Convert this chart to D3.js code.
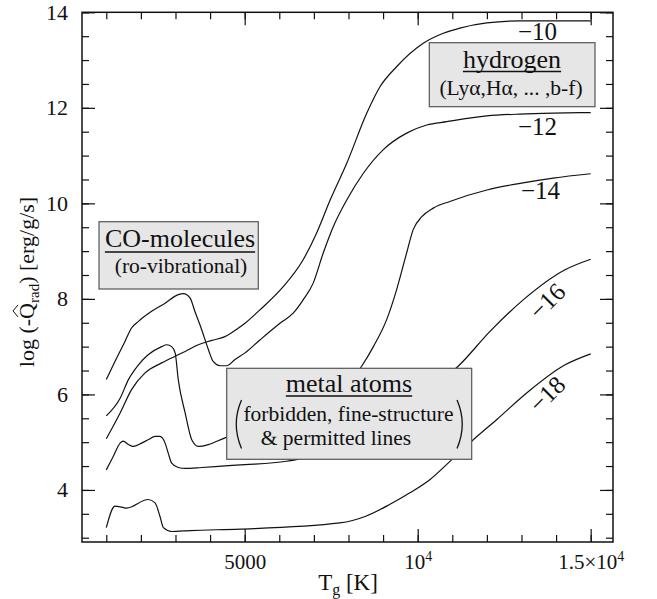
<!DOCTYPE html>
<html><head><meta charset="utf-8">
<script src="https://cdn.jsdelivr.net/npm/d3@7"></script>
</head><body style="margin:0;background:#fff">
<svg id="c" width="657" height="599"></svg>
<script>
// ---- data (T in K, log(-Q_rad) in erg/g/s) ----
const curveNames = ["−10","−12","−14","−16","−18"];
const T_m10 = [1000,1400,1730,2120,2600,2990,3280,3660,4050,4430,4820,5010,5440,6120,6690,7080,7470,7950,8530,8910,9390,10160,10740,11220,12000,12960,13920,15000];
const Q_m10 = [5.07,5.61,6.10,6.45,6.66,6.80,6.90,7.04,7.13,7.21,7.39,7.49,7.77,8.26,8.82,9.38,10.07,10.84,11.89,12.44,12.86,13.35,13.56,13.67,13.78,13.82,13.82,13.82];
const T_m12 = [1000,1250,1540,1730,1930,2310,2700,3080,3230,3420,3560,3760,3950,4090,4290,4480,4720,5010,5440,6020,6400,6690,6980,7270,7560,7950,8430,9000,9680,10260,10840,12000,12960,13920,15000];
const Q_m12 = [6.31,6.69,7.11,7.39,7.53,7.74,7.91,8.09,8.11,8.02,7.74,7.35,6.94,6.69,6.60,6.60,6.73,6.87,7.14,7.49,7.70,7.98,8.33,8.96,9.51,10.07,10.63,11.12,11.47,11.64,11.71,11.83,11.87,11.89,11.90];
const T_m14 = [1000,1400,1640,1930,2210,2600,2750,2890,2990,3080,3280,3470,3660,3950,4430,5200,6000,7000,7800,8380,8720,9100,9390,9680,9870,10120,10450,10930,12000,12960,13920,15000];
const Q_m14 = [5.55,5.92,6.31,6.62,6.83,7.00,7.04,7.00,6.87,6.31,5.61,5.05,4.91,4.95,5.09,5.25,5.45,5.75,6.10,6.59,7.00,7.56,8.19,8.96,9.45,9.72,9.90,10.04,10.28,10.42,10.53,10.62];
const T_m16 = [1000,1200,1400,1490,1640,1780,2020,2210,2410,2550,2700,2790,2890,3080,3280,3760,4530,5010,6210,6600,7500,8500,9500,10300,11170,12090,13050,14260,15000];
const Q_m16 = [4.42,4.70,4.98,5.02,4.95,4.91,4.98,5.05,5.12,5.12,4.98,4.77,4.56,4.47,4.45,4.47,4.51,4.53,4.60,4.65,4.80,5.20,5.70,6.10,6.59,7.32,7.98,8.61,8.83];
const T_m18 = [1000,1250,1450,1590,2210,2410,2550,2650,2890,3420,4860,7750,8500,9200,9800,10360,10980,11560,12280,13150,14260,15000];
const Q_m18 = [3.21,3.66,3.64,3.62,3.80,3.73,3.45,3.21,3.13,3.15,3.18,3.31,3.45,3.70,3.95,4.22,4.63,5.02,5.47,6.03,6.62,6.85];

const xMajorTicks = [5000,10000,15000];
const xTickBase = ["5000","10","1.5×10"];
const xTickExp  = ["","4","4"];
const xMinorTicks = d3.range(1000,15001,1000);
const yMajorTicks = [4,6,8,10,12,14];
const yMinorTicks = d3.range(3,14.01,0.5);

// ---- layout ----
const svg = d3.select("#c");
const x = d3.scaleLinear().domain([298,15645]).range([82,613]);
const y = d3.scaleLinear().domain([2.91,14]).range([542,12.3]);
const X0=82,X1=613,Y0=12.3,Y1=542;

const series = [
  {name:curveNames[0], T:T_m10, Q:Q_m10},
  {name:curveNames[1], T:T_m12, Q:Q_m12},
  {name:curveNames[2], T:T_m14, Q:Q_m14},
  {name:curveNames[3], T:T_m16, Q:Q_m16},
  {name:curveNames[4], T:T_m18, Q:Q_m18}
];
const line = d3.line().x(d=>x(d[0])).y(d=>y(d[1])).curve(d3.curveMonotoneX);
svg.append("g").selectAll("path").data(series).join("path")
  .attr("d",s=>line(s.T.map((t,i)=>[t,s.Q[i]])))
  .attr("fill","none").attr("stroke","#111").attr("stroke-width",1.2);

// ---- axes ----
function clean(g){g.attr("font-size",null); g.select(".domain").remove(); g.selectAll("line").attr("stroke","#111").attr("stroke-width",1.2);}
svg.append("g").attr("transform",`translate(0,${Y1})`)
  .call(d3.axisBottom(x).tickValues(xMinorTicks).tickSize(-7).tickFormat("")).call(clean);
svg.append("g").attr("transform",`translate(0,${Y0})`)
  .call(d3.axisTop(x).tickValues(xMinorTicks).tickSize(-7).tickFormat("")).call(clean);
svg.append("g").attr("transform",`translate(0,${Y0})`)
  .call(d3.axisTop(x).tickValues(xMajorTicks).tickSize(-13).tickFormat("")).call(clean);
const xb = svg.append("g").attr("transform",`translate(0,${Y1})`)
  .call(d3.axisBottom(x).tickValues(xMajorTicks).tickSize(-13).tickPadding(10).tickFormat(""))
  .call(clean);
xb.selectAll(".tick").each(function(d,i){
  const t = d3.select(this).select("text").attr("font-size",21).attr("y",27).attr("dy",null).attr("fill","#111");
  t.text(null);
  t.append("tspan").text(xTickBase[i]);
  if(xTickExp[i]) t.append("tspan").attr("dy",-8).attr("font-size",14).text(xTickExp[i]);
});
svg.append("g").attr("transform",`translate(${X0},0)`)
  .call(d3.axisLeft(y).tickValues(yMinorTicks).tickSize(-7).tickFormat("")).call(clean);
svg.append("g").attr("transform",`translate(${X1},0)`)
  .call(d3.axisRight(y).tickValues(yMinorTicks).tickSize(-7).tickFormat("")).call(clean);
svg.append("g").attr("transform",`translate(${X1},0)`)
  .call(d3.axisRight(y).tickValues(yMajorTicks).tickSize(-13).tickFormat("")).call(clean);
const yl = svg.append("g").attr("transform",`translate(${X0},0)`)
  .call(d3.axisLeft(y).tickValues(yMajorTicks).tickSize(-13).tickPadding(14).tickFormat(d3.format("d")))
  .call(clean);
yl.selectAll("text").attr("font-size",22).attr("fill","#111");

svg.append("rect").attr("x",X0).attr("y",Y0).attr("width",X1-X0).attr("height",Y1-Y0)
  .attr("fill","none").attr("stroke","#111").attr("stroke-width",1.5);

// ---- axis titles ----
const xt = svg.append("text").attr("x",348).attr("y",590).attr("text-anchor","middle").attr("font-size",23);
xt.append("tspan").text("T");
xt.append("tspan").attr("font-size",16).attr("dy",5).text("g");
xt.append("tspan").attr("dy",-5).text(" [K]");

const yt = svg.append("text").attr("transform","translate(34,282) rotate(-90)").attr("text-anchor","middle").attr("font-size",22);
yt.append("tspan").text("log (-");
const qs = yt.append("tspan").text("Q");
yt.append("tspan").attr("font-size",15).attr("dy",5).text("rad");
yt.append("tspan").attr("dy",-5).text(") [erg/g/s]");

// ---- boxes ----
function box(x0,y0,x1,y1){
  svg.append("rect").attr("x",x0).attr("y",y0).attr("width",x1-x0).attr("height",y1-y0)
    .attr("fill","#e6e6e6").attr("stroke","#555").attr("stroke-width",1.2);
}
function title(cx,by,str,fs,uy){
  const t = svg.append("text").attr("x",cx).attr("y",by).attr("text-anchor","middle").attr("font-size",fs)
    .attr("font-family","Liberation Serif").text(str);
  const w = t.node().getComputedTextLength();
  svg.append("line").attr("x1",cx-w/2).attr("x2",cx+w/2).attr("y1",uy).attr("y2",uy).attr("stroke","#111").attr("stroke-width",1.4);
}
function sub(cx,by,str,fs){
  svg.append("text").attr("x",cx).attr("y",by).attr("text-anchor","middle").attr("font-size",fs).text(str);
}
box(99,221.7,258.3,289);
title(180,247,"CO-molecules",26,252);
sub(181,273,"(ro-vibrational)",21.5);

box(429.3,42.7,595,106.7);
title(512,68,"hydrogen",26,71.5);
sub(511,95,"(Lyα,Hα, ... ,b-f)",21.5);

box(226.7,368.3,471.7,459.3);
title(349,392,"metal atoms",26,396);
sub(348.5,421,"forbidden, fine-structure",21.5);
sub(336,445,"& permitted lines",21.5);
svg.append("path").attr("d","M241.5,400 Q231,424 241.5,448.5").attr("fill","none").attr("stroke","#111").attr("stroke-width",1.3);
svg.append("path").attr("d","M457,400 Q467.5,424 457,448.5").attr("fill","none").attr("stroke","#111").attr("stroke-width",1.3);

// ---- curve labels ----
const labelPos = [[537.5,40,0],[537.5,135,0],[540.5,199,0],[547,301,-45],[547,394,-45]];
svg.append("g").selectAll("text").data(series).join("text")
  .attr("transform",(s,i)=>`translate(${labelPos[i][0]},${labelPos[i][1]}) rotate(${labelPos[i][2]})`)
  .attr("dy",(s,i)=>labelPos[i][2]? "0.35em":null)
  .attr("text-anchor","middle").attr("font-size",25).text(s=>s.name);

// serif font on every text and tspan
svg.selectAll("g").attr("font-family",null);
svg.selectAll("text, tspan").attr("font-family","Liberation Serif").attr("fill","#111");

// hat over Q in the y title (rotated frame: measure along text)
{
  const n = yt.node();
  const s0 = n.getStartPositionOfChar(6), e0 = n.getEndPositionOfChar(6);
  // positions are in the text's user space (before its rotate transform)
  const cx = (s0.x + e0.x)/2, top = s0.y - 19;
  const g = svg.append("g").attr("transform","translate(34,282) rotate(-90)");
  g.append("path").attr("d",`M${cx-6},${top+3} L${cx},${top-2} L${cx+6},${top+3}`)
    .attr("fill","none").attr("stroke","#111").attr("stroke-width",1);
}
</script>
</body></html>
